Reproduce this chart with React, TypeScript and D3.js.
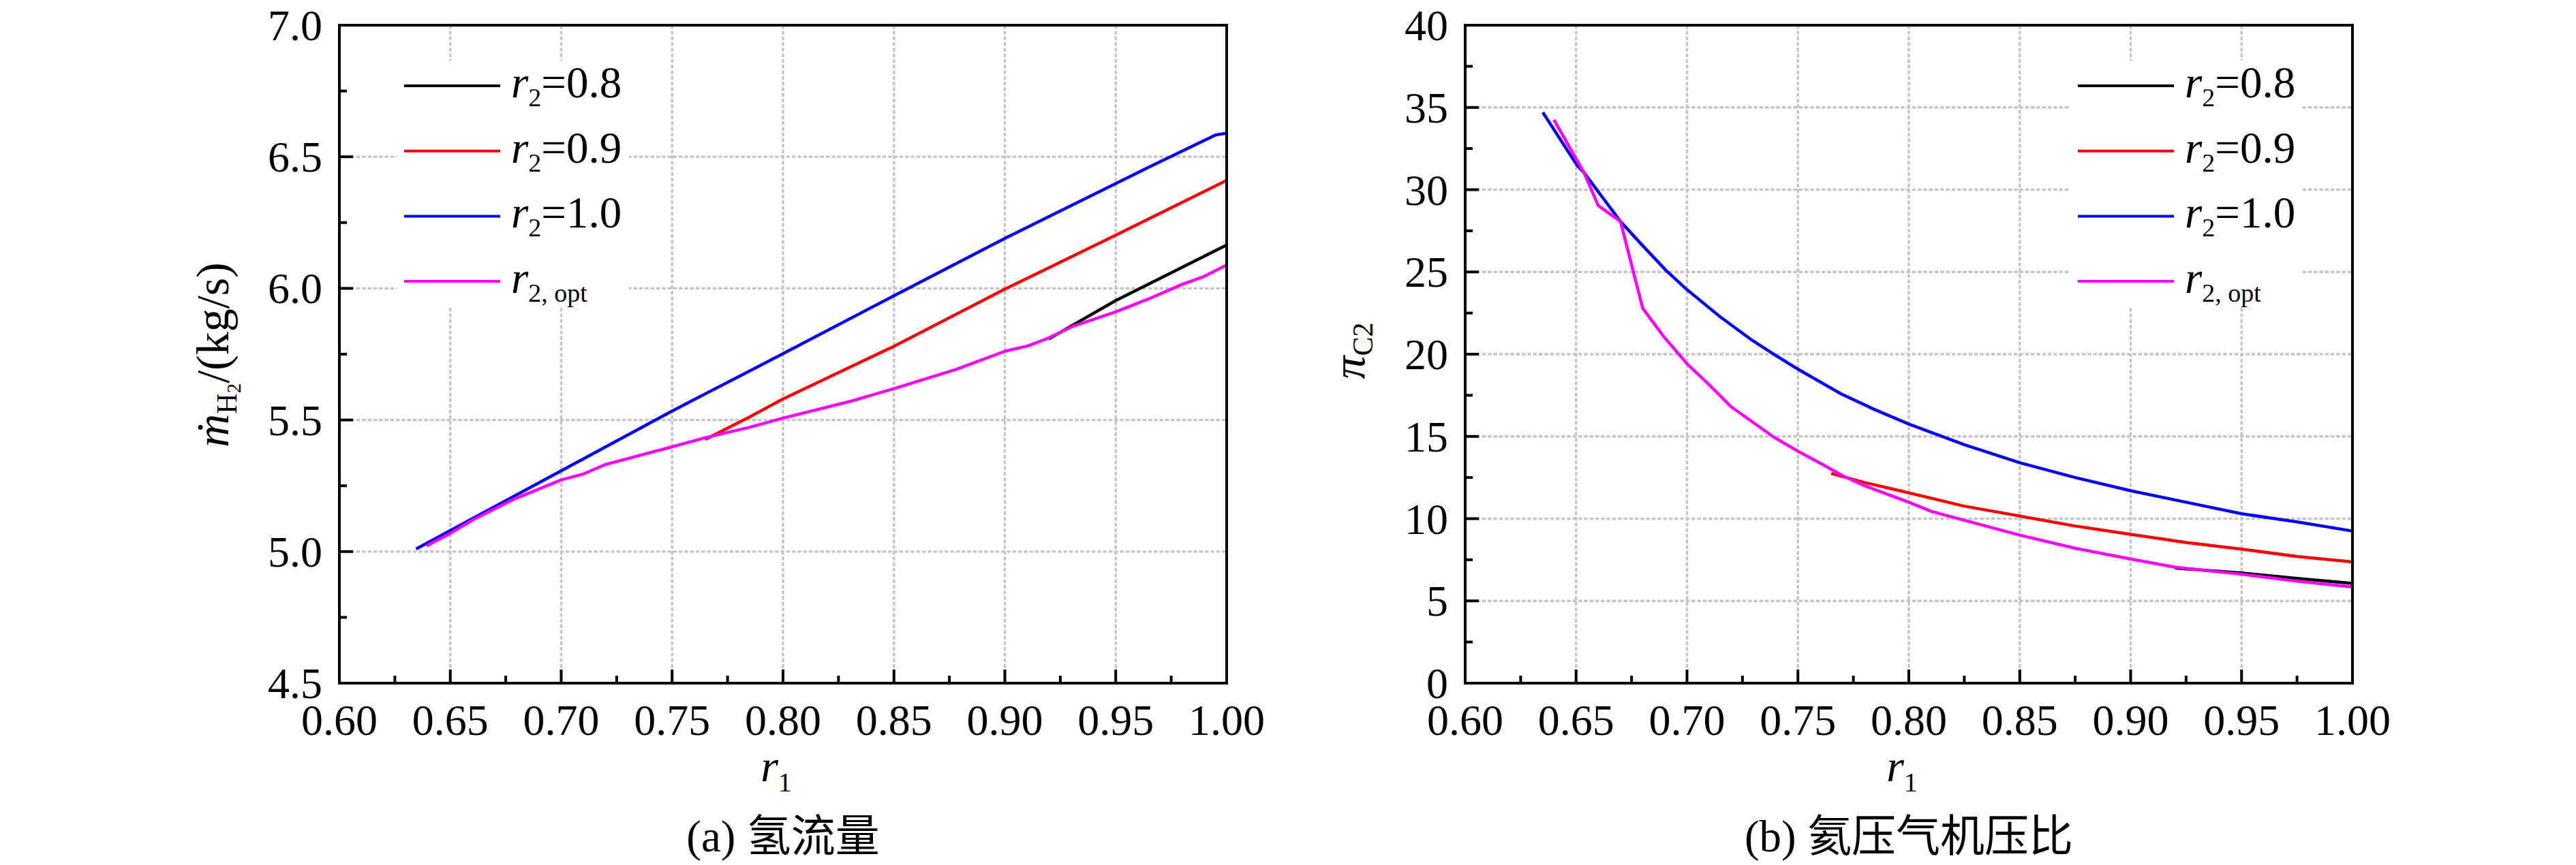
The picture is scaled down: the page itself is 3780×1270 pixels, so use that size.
import React from 'react';
import * as d3 from 'd3';

type Pt = [number, number];

const X_TICKS = [0.6, 0.65, 0.7, 0.75, 0.8, 0.85, 0.9, 0.95, 1.0];
const X_MINOR = [0.625, 0.675, 0.725, 0.775, 0.825, 0.875, 0.925, 0.975];
const A_Y_TICKS = [4.5, 5.0, 5.5, 6.0, 6.5, 7.0];
const A_Y_MINOR = [4.75, 5.25, 5.75, 6.25, 6.75];
const B_Y_TICKS = [0, 5, 10, 15, 20, 25, 30, 35, 40];
const B_Y_MINOR = [2.5, 7.5, 12.5, 17.5, 22.5, 27.5, 32.5, 37.5];

// Panel (a): hydrogen mass flow
const A_R08: Pt[] = [[0.9198, 5.808], [0.95, 5.954], [1.0, 6.165]];
const A_R09: Pt[] = [[0.7649, 5.4256], [0.7849, 5.511], [0.8, 5.58], [0.85, 5.78], [0.9, 5.997], [0.95, 6.202], [1.0, 6.4105]];
const A_R10: Pt[] = [[0.6346, 5.01], [0.65, 5.08], [0.7, 5.307], [0.75, 5.534], [0.7849, 5.686], [0.8, 5.752], [0.85, 5.972], [0.9, 6.19], [0.9636, 6.455], [0.995, 6.583], [1.0, 6.59]];
const A_OPT: Pt[] = [[0.6393, 5.0216], [0.65, 5.069], [0.6603, 5.121], [0.679, 5.2], [0.7, 5.272], [0.7098, 5.294], [0.7197, 5.33], [0.7285, 5.35], [0.75, 5.398], [0.7649, 5.4325], [0.7849, 5.472], [0.8, 5.507], [0.83, 5.57], [0.85, 5.619], [0.878, 5.692], [0.9, 5.761], [0.9106, 5.782], [0.9198, 5.812], [0.9304, 5.855], [0.95, 5.911], [0.9657, 5.963], [0.9798, 6.015], [0.9897, 6.045], [1.0, 6.089]];

// Panel (b): compressor pressure ratio
const B_R08: Pt[] = [[0.92, 7.0], [0.95, 6.7], [0.975, 6.37], [1.0, 6.07]];
const B_R09: Pt[] = [[0.765, 12.75], [0.78, 12.2], [0.8, 11.57], [0.825, 10.76], [0.85, 10.16], [0.875, 9.55], [0.9, 9.05], [0.925, 8.55], [0.95, 8.15], [0.975, 7.7], [1.0, 7.37]];
const B_R10: Pt[] = [[0.635, 34.7], [0.6506, 31.45], [0.6535, 31.05], [0.67, 28.07], [0.68, 26.6], [0.6905, 25.1], [0.7, 23.92], [0.7147, 22.3], [0.7293, 20.85], [0.74, 19.92], [0.75, 19.09], [0.7693, 17.6], [0.7843, 16.65], [0.8, 15.75], [0.825, 14.5], [0.85, 13.4], [0.875, 12.5], [0.9, 11.7], [0.925, 11.0], [0.95, 10.3], [0.975, 9.8], [1.0, 9.25]];
const B_OPT: Pt[] = [[0.64, 34.25], [0.6535, 31.05], [0.66, 29.03], [0.67, 28.07], [0.68, 22.8], [0.6895, 21.07], [0.7, 19.42], [0.71, 18.14], [0.72, 16.79], [0.739, 14.97], [0.75, 14.1], [0.761, 13.3], [0.7705, 12.59], [0.78, 12.0], [0.8, 11.0], [0.81, 10.45], [0.825, 9.9], [0.85, 9.0], [0.875, 8.2], [0.9, 7.55], [0.92, 7.05], [0.95, 6.62], [0.975, 6.2], [1.0, 5.85]];

const SERIES_NAMES = ['=0.8', '=0.9', '=1.0', ', opt'];
const SERIES_COLORS = ['#000000', '#ff0000', '#0000ff', '#ff00ff'];

const SERIF = 'Liberation Serif, Times New Roman, DejaVu Serif, serif';
const CJK = 'Noto Sans CJK SC, sans-serif';

const TOP = 37;
const BOTTOM = 1003;
const WIDTH = 1302;

interface PanelProps {
  left: number;
  yDomain: [number, number];
  yTicks: number[];
  yMinor: number[];
  yFmt: (v: number) => string;
  series: Pt[][];
  legendX: number;
  yLabel: React.ReactNode;
  capLetter: string;
  capText: string;
}

const serifStyle: React.CSSProperties = { fontFamily: SERIF };

function Panel(p: PanelProps) {
  const right = p.left + WIDTH;
  const x = d3.scaleLinear().domain([0.6, 1.0]).range([p.left, right]);
  const y = d3.scaleLinear().domain(p.yDomain).range([BOTTOM, TOP]);
  const line = d3.line<Pt>().x(d => x(d[0])).y(d => y(d[1]));
  const cx = (p.left + right) / 2;
  const gridX = X_TICKS.slice(1, -1);
  const gridY = p.yTicks.slice(1, -1);
  const legTop = 126;
  const legStep = 95.7;
  const lx0 = p.legendX;
  const lx1 = lx0 + 141;
  return (
    <g>
      <g stroke="#c4c4c4" strokeWidth={3.3} strokeDasharray="5.5 2.8" fill="none">
        {gridX.map(t => (
          <line key={'gx' + t} x1={x(t)} x2={x(t)} y1={TOP} y2={BOTTOM} />
        ))}
        {gridY.map(t => (
          <line key={'gy' + t} x1={p.left} x2={right} y1={y(t)} y2={y(t)} />
        ))}
      </g>
      <rect x={lx0 - 11} y={89} width={341} height={361} fill="#ffffff" />
      <g fill="none" strokeWidth={4.5} strokeLinejoin="round" strokeLinecap="butt">
        {p.series.map((s, i) => (
          <path key={'s' + i} d={line(s) || ''} stroke={SERIES_COLORS[i]} />
        ))}
      </g>
      <rect x={p.left} y={TOP} width={WIDTH} height={BOTTOM - TOP} fill="none" stroke="#000" strokeWidth={4} />
      <g stroke="#000" strokeWidth={4}>
        {X_TICKS.map(t => (
          <line key={'xt' + t} x1={x(t)} x2={x(t)} y1={BOTTOM} y2={BOTTOM - 20} />
        ))}
        {X_MINOR.map(t => (
          <line key={'xm' + t} x1={x(t)} x2={x(t)} y1={BOTTOM} y2={BOTTOM - 11} />
        ))}
        {p.yTicks.map(t => (
          <line key={'yt' + t} x1={p.left} x2={p.left + 20} y1={y(t)} y2={y(t)} />
        ))}
        {p.yMinor.map(t => (
          <line key={'ym' + t} x1={p.left} x2={p.left + 11} y1={y(t)} y2={y(t)} />
        ))}
      </g>
      <g style={serifStyle} fontSize={64} fill="#000">
        {X_TICKS.map(t => (
          <text key={'xl' + t} x={x(t)} y={1079} textAnchor="middle" style={serifStyle}>{t.toFixed(2)}</text>
        ))}
        {p.yTicks.map(t => (
          <text key={'yl' + t} x={p.left - 25} y={y(t) + 22} textAnchor="end" style={serifStyle}>{p.yFmt(t)}</text>
        ))}
      </g>
      <text x={cx - 10} y={1147} style={serifStyle} fontSize={66} textAnchor="middle">
        <tspan fontStyle="italic">r</tspan>
        <tspan fontSize={40} dy={15}>1</tspan>
      </text>
      {p.yLabel}
      {p.series.map((_, i) => {
        const ly = legTop + i * legStep;
        return (
          <g key={'lg' + i}>
            <line x1={lx0} x2={lx1} y1={ly} y2={ly} stroke={SERIES_COLORS[i]} strokeWidth={4} />
            <text x={lx1 + 16} y={ly + 17} style={serifStyle} fontSize={65} fill="#000">
              <tspan fontStyle="italic">r</tspan>
              {i < 3 ? (
                <>
                  <tspan fontSize={38} dy={13}>2</tspan>
                  <tspan dy={-13}>{SERIES_NAMES[i]}</tspan>
                </>
              ) : (
                <tspan fontSize={38} dy={13}>{'2' + SERIES_NAMES[i]}</tspan>
              )}
            </text>
          </g>
        );
      })}
      <text x={cx} y={1250} fontSize={65} textAnchor="middle" fill="#000">
        <tspan style={serifStyle}>{p.capLetter + ' '}</tspan>
        <tspan style={{ fontFamily: CJK }}>{p.capText}</tspan>
      </text>
    </g>
  );
}

export default function App() {
  const leftA = 498;
  const leftB = 2150;
  const yLabelA = (
    <text transform={`translate(335, 521) rotate(-90)`} style={serifStyle} fontSize={68} textAnchor="middle" fill="#000">
      <tspan fontStyle="italic">{'\u1E41'}</tspan>
      <tspan fontSize={42} dy={12}>H</tspan>
      <tspan fontSize={29} dy={6}>2</tspan>
      <tspan dy={-18}>/(kg/s)</tspan>
    </text>
  );
  const yLabelB = (
    <text transform={`translate(2002, 515) rotate(-90)`} style={serifStyle} fontSize={68} textAnchor="middle" fill="#000">
      <tspan fontStyle="italic">{'\u03C0'}</tspan>
      <tspan fontSize={42} dy={12}>C2</tspan>
    </text>
  );
  return (
    <div style={{ position: 'absolute', left: 0, top: 0 }}>
      <svg width={3780} height={1270} viewBox="0 0 3780 1270" style={{ display: 'block', background: '#fff' }}>
        <rect x={0} y={0} width={3780} height={1270} fill="#fff" />
        <Panel
          left={leftA}
          yDomain={[4.5, 7.0]}
          yTicks={A_Y_TICKS}
          yMinor={A_Y_MINOR}
          yFmt={v => v.toFixed(1)}
          series={[A_R08, A_R09, A_R10, A_OPT]}
          legendX={leftA + 95}
          yLabel={yLabelA}
          capLetter="(a)"
          capText="氢流量"
        />
        <Panel
          left={leftB}
          yDomain={[0, 40]}
          yTicks={B_Y_TICKS}
          yMinor={B_Y_MINOR}
          yFmt={v => String(v)}
          series={[B_R08, B_R09, B_R10, B_OPT]}
          legendX={leftB + 899}
          yLabel={yLabelB}
          capLetter="(b)"
          capText="氦压气机压比"
        />
      </svg>
    </div>
  );
}
